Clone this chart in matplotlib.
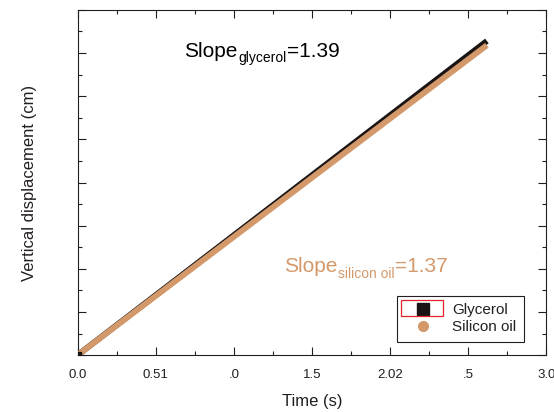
import matplotlib
matplotlib.use("Agg")
import matplotlib.pyplot as plt
from matplotlib.patches import Rectangle
from matplotlib.ticker import FixedLocator, MultipleLocator
from matplotlib.transforms import offset_copy

plt.rcParams['font.family'] = ['Liberation Sans', 'DejaVu Sans']

# data
time = [0.0, 2.62]
glycerol = [0.0, 3.64]
silicon_oil = [0.0, 3.59]
xtick_values = [0.0, 0.5, 1.0, 1.5, 2.0, 2.5, 3.0]
xtick_labels = ["0.0", "0.51", ".0", "1.5", "2.02", ".5", "3.0"]
series_names = ["Glycerol", "Silicon oil"]
slope_glycerol = "1.39"
slope_silicon = "1.37"

text_c = '#231f20'
orange = '#d4996b'

W, H = 554, 412
fig = plt.figure(figsize=(W / 100, H / 100), dpi=100)
ax = fig.add_axes([0.140, 0.138, 0.846, 0.838])

ax.plot(time, glycerol, color='#1a1414', lw=4.2, solid_capstyle='butt', zorder=3)
ax.plot(time, silicon_oil, color=orange, lw=4.2, solid_capstyle='butt', zorder=4)
ax.plot([time[0]], [glycerol[0]], 's', color='#1a1414', ms=4, zorder=5)

ax.set_xlim(0, 3.0)
ax.set_ylim(0, 4.0)
ax.xaxis.set_major_locator(FixedLocator(xtick_values))
ax.set_xticklabels(xtick_labels)
ax.xaxis.set_minor_locator(MultipleLocator(0.25))
ax.yaxis.set_major_locator(MultipleLocator(0.5))
ax.yaxis.set_minor_locator(MultipleLocator(0.25))
ax.tick_params(which='both', direction='in', top=True, right=True,
               color=text_c, width=0.8, labelleft=False)
ax.tick_params(which='major', length=6, labelsize=9.5, pad=10, labelcolor=text_c)
ax.tick_params(which='minor', length=3)
for s in ax.spines.values():
    s.set_color(text_c)
    s.set_linewidth(0.8)

ax.set_xlabel("Time (s)", fontsize=12, color=text_c, labelpad=9)
ax.set_ylabel("Vertical displacement (cm)", fontsize=12, color=text_c, labelpad=29)

renderer = fig.canvas.get_renderer()


def slope_text(x, y, sub, value, color):
    t1 = ax.text(x, y, "Slope", transform=ax.transAxes, fontsize=15, color=color,
                 ha='left', va='baseline')
    e1 = t1.get_window_extent(renderer)
    tr2 = offset_copy(ax.transAxes, fig=fig, x=e1.width + 1, y=-5.5, units='dots')
    t2 = ax.text(x, y, sub, transform=tr2, fontsize=10, color=color,
                 ha='left', va='baseline')
    e2 = t2.get_window_extent(renderer)
    tr3 = offset_copy(ax.transAxes, fig=fig, x=e1.width + e2.width + 1, y=0, units='dots')
    ax.text(x, y, "=" + value, transform=tr3, fontsize=15, color=color,
            ha='left', va='baseline')


slope_text(0.227, 0.864, "glycerol", slope_glycerol, 'black')
slope_text(0.4405, 0.2406, "silicon oil", slope_silicon, orange)

h1, = ax.plot([], [], 's', color='#1a1414', ms=8, label=series_names[0])
h2, = ax.plot([], [], 'o', color=orange, ms=7, label=series_names[1])
leg = ax.legend(handles=[h1, h2], loc='lower right', bbox_to_anchor=(0.953, 0.038),
                borderaxespad=0, fancybox=False, edgecolor=text_c, fontsize=11,
                handlelength=2.4, handletextpad=0.76, borderpad=0.5, labelspacing=0.2,
                framealpha=1)
leg.get_frame().set_linewidth(0.8)
for t in leg.get_texts():
    t.set_color(text_c)

fig.canvas.draw()
fb = leg.get_frame().get_window_extent(renderer)
x0 = fb.x0 + 4
top = fb.y1 - 4
fig.patches.append(Rectangle((x0 / W, (top - 16) / H), 42 / W, 16 / H,
                             transform=fig.transFigure, fill=False,
                             edgecolor='#e0262a', lw=0.9, zorder=10))

fig.savefig("out.png", dpi=100)
